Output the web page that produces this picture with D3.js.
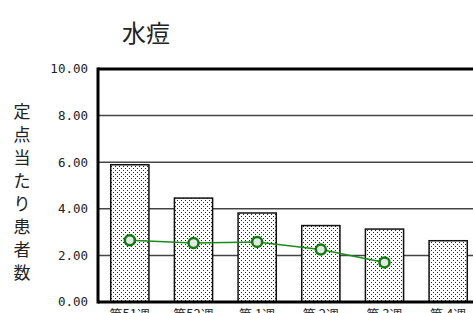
<!DOCTYPE html>
<html>
<head>
<meta charset="utf-8">
<script src="https://cdn.jsdelivr.net/npm/d3@7"></script>
<style>
  body { margin: 0; background: #fff; }
  svg { display: block; }
</style>
</head>
<body>
<svg id="chart" width="473" height="313"></svg>
<script>
const weeks = ['第51週', '第52週', '第 1週', '第 2週', '第 3週', '第 4週'];
const barValues = [5.89, 4.46, 3.82, 3.28, 3.13, 2.63];
const lineValues = [2.65, 2.53, 2.58, 2.25, 1.70];
const yTicks = [0, 2, 4, 6, 8, 10];

const svg = d3.select('#chart'),
  margin = {top: 69, right: 0, bottom: 11, left: 98},
  width = 382,
  height = +svg.attr('height') - margin.top - margin.bottom,
  g = svg.append('g').attr('transform', 'translate(' + margin.left + ',' + margin.top + ')');

// dotted fill for the bars
const pat = svg.append('defs').append('pattern')
  .attr('id', 'dots').attr('width', 4).attr('height', 4)
  .attr('patternUnits', 'userSpaceOnUse');
pat.append('rect').attr('width', 4).attr('height', 4).attr('fill', '#fff');
pat.append('rect').attr('x', 1).attr('y', 1).attr('width', 1).attr('height', 1).attr('fill', '#222');
pat.append('rect').attr('x', 3).attr('y', 3).attr('width', 1).attr('height', 1).attr('fill', '#222');

const x = d3.scaleBand().domain(weeks).range([0, width]).paddingInner(0.4).paddingOuter(0.2);
const y = d3.scaleLinear().domain([0, 10]).range([height, 0]);

// gridlines
g.selectAll('.grid')
  .data(yTicks.filter(d => d > 0 && d < 10))
  .enter().append('line')
  .attr('x1', 0).attr('x2', width)
  .attr('y1', d => y(d)).attr('y2', d => y(d))
  .attr('stroke', '#444').attr('stroke-width', 1.5);

// bars
g.selectAll('.bar')
  .data(barValues)
  .enter().append('rect')
  .attr('x', (d, i) => x(weeks[i]))
  .attr('y', d => y(d))
  .attr('width', x.bandwidth())
  .attr('height', d => y(0) - y(d))
  .attr('fill', 'url(#dots)')
  .attr('stroke', '#111').attr('stroke-width', 1.5);

// frame
g.append('line').attr('x1', 0).attr('x2', width).attr('y1', 0).attr('y2', 0)
  .attr('stroke', '#000').attr('stroke-width', 3);
g.append('line').attr('x1', 0).attr('x2', width).attr('y1', y(0)).attr('y2', y(0))
  .attr('stroke', '#000').attr('stroke-width', 3);
g.append('line').attr('x1', 0).attr('x2', 0).attr('y1', -1.5).attr('y2', y(0) + 1.5)
  .attr('stroke', '#000').attr('stroke-width', 3);

// line series
const cx = (d, i) => x(weeks[i]) + x.bandwidth() / 2;
const line = d3.line().x(cx).y(d => y(d));
g.append('path')
  .datum(lineValues)
  .attr('fill', 'none')
  .attr('stroke', '#1a8c1a').attr('stroke-width', 1.5)
  .attr('d', line);
g.selectAll('.pt')
  .data(lineValues)
  .enter().append('circle')
  .attr('cx', cx).attr('cy', d => y(d)).attr('r', 5)
  .attr('fill', '#e6e6e6')
  .attr('stroke', '#0a7d0a').attr('stroke-width', 2.5);

// y tick labels
g.selectAll('.ytick')
  .data(yTicks)
  .enter().append('text')
  .attr('x', -10).attr('y', d => y(d)).attr('dy', '0.35em')
  .attr('text-anchor', 'end')
  .style('font-family', 'DejaVu Sans Mono, monospace').style('font-size', '12.5px')
  .attr('fill', '#222')
  .text(d => d.toFixed(2));

// x tick labels (cut by the bottom edge, as in the original)
g.selectAll('.xtick')
  .data(weeks)
  .enter().append('text')
  .attr('x', d => x(d) + x.bandwidth() / 2).attr('y', y(0) + 17)
  .attr('text-anchor', 'middle')
  .style('font-family', 'Noto Sans CJK JP, sans-serif').style('font-size', '13px')
  .attr('fill', '#222')
  .text(d => d);

// title
svg.append('text')
  .attr('x', 146).attr('y', 42)
  .attr('text-anchor', 'middle')
  .style('font-family', 'Noto Sans CJK JP, sans-serif').style('font-size', '24px')
  .attr('fill', '#222')
  .text('水痘');

// vertical y label
const yLabel = '定点当たり患者数'.split('');
svg.selectAll('.ylab')
  .data(yLabel)
  .enter().append('text')
  .attr('x', 22).attr('y', (d, i) => 118 + i * 23)
  .attr('text-anchor', 'middle')
  .style('font-family', 'Noto Sans CJK JP, sans-serif').style('font-size', '17px')
  .attr('fill', '#222')
  .text(d => d);
</script>
</body>
</html>
